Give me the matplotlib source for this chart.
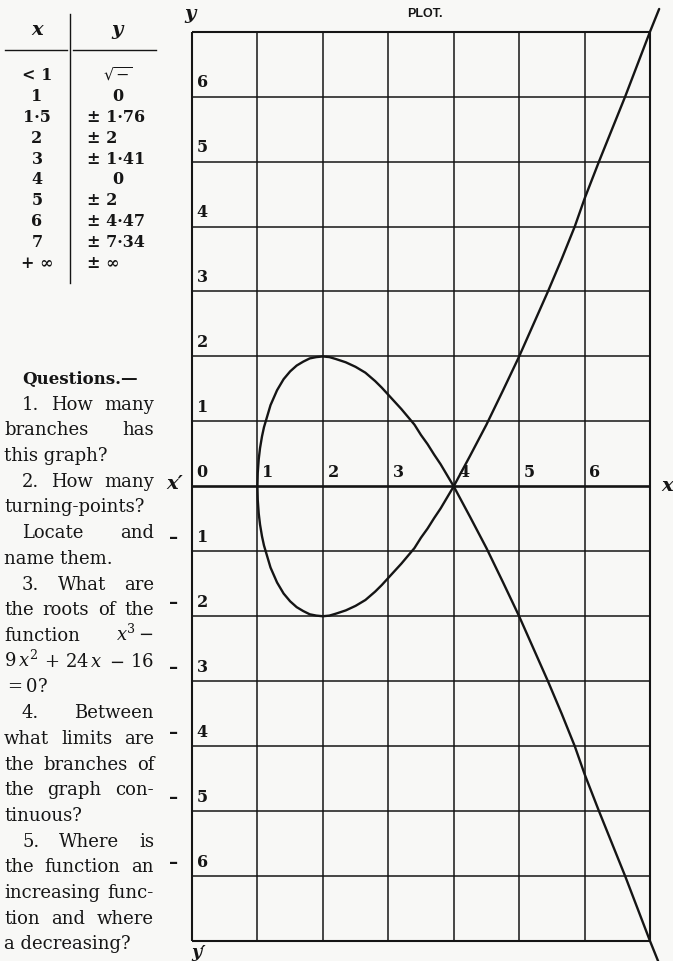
import matplotlib
matplotlib.use("Agg")
import matplotlib.pyplot as plt
from matplotlib.lines import Line2D

# values table printed beside the plot
table_x = ["< 1", "1", "1·5", "2", "3", "4", "5", "6", "7", "+ ∞"]
table_y = [r"$\sqrt{-}$", "0", "± 1·76", "± 2", "± 1·41", "0", "± 2", "± 4·47", "± 7·34", "± ∞"]

# upper half of the drawn curve (lower half is its mirror)
curve_x = [1.000, 1.005, 1.02, 1.04, 1.07, 1.10, 1.15, 1.20, 1.30, 1.40, 1.50, 1.60,
           1.70, 1.80, 1.90, 2.00, 2.10, 2.20, 2.35, 2.50, 2.65, 2.80, 2.90, 3.00,
           3.10, 3.20, 3.30, 3.40, 3.50, 3.60, 3.70, 3.80, 3.90, 4.00, 4.25, 4.50,
           4.75, 5.00, 5.22, 5.44, 5.65, 5.85, 6.00, 6.22, 6.42, 6.62, 6.81, 7.00, 7.14]
curve_y = [0.00, 0.21, 0.42, 0.59, 0.77, 0.91, 1.08, 1.25, 1.48, 1.65, 1.77, 1.86,
           1.92, 1.97, 1.99, 2.00, 1.99, 1.96, 1.91, 1.84, 1.75, 1.62, 1.52, 1.41,
           1.30, 1.19, 1.07, 0.95, 0.79, 0.65, 0.49, 0.34, 0.17, 0.00, -0.47, -0.95,
           -1.47, -2.00, -2.50, -3.00, -3.50, -4.00, -4.43, -5.00, -5.50, -6.00, -6.50,
           -7.00, -7.35]

x_labels = ["0", "1", "2", "3", "4", "5", "6"]
y_labels = ["1", "2", "3", "4", "5", "6"]

questions = [
    ("Questions.—", True, False),
    ("1. How many", True, True),
    ("branches has", False, True),
    ("this graph?", False, False),
    ("2. How many", True, True),
    ("turning-points?", False, False),
    ("Locate and", True, True),
    ("name them.", False, False),
    ("3. What are", True, True),
    ("the roots of the", False, True),
    ("function $x^3-$", False, True),
    ("$9\\,x^2$ $+$ $24\\,x$ $-$ $16$", False, True),
    ("$=0$?", False, False),
    ("4. Between", True, True),
    ("what limits are", False, True),
    ("the branches of", False, True),
    ("the graph con-", False, True),
    ("tinuous?", False, False),
    ("5. Where is", True, True),
    ("the function an", False, True),
    ("increasing func-", False, True),
    ("tion and where", False, True),
    ("a decreasing?", False, False),
]

W, H = 673, 961
ink = "#151515"
bg = "#f8f8f6"
plt.rcParams["mathtext.fontset"] = "dejavuserif"
serif = "DejaVu Serif"

fig = plt.figure(figsize=(W / 100, H / 100), dpi=100, facecolor=bg)
ax = fig.add_axes([0, 0, 1, 1])
ax.set_facecolor(bg)
ax.axis("off")

# pixel layout of the grid: x 0..7 -> 192..650, y 7..-7 -> 31.7..941
ux = (650 - 192) / 7
uy = (941 - 31.7) / 14
ax.set_xlim(-192 / ux, (W - 192) / ux)
ax.set_ylim(-7 - (H - 941) / uy, 7 + 31.7 / uy)

# grid
for k in range(8):
    lw = 1.5 if k in (0, 7) else 1.1
    ax.plot([k, k], [-7, 7], color=ink, lw=lw, solid_capstyle="butt")
for k in range(-7, 8):
    lw = 1.5 if k in (-7, 7) else (1.9 if k == 0 else 1.1)
    ax.plot([0, 7], [k, k], color=ink, lw=lw, solid_capstyle="butt")

# curve
ax.plot(curve_x, curve_y, color=ink, lw=1.7, solid_capstyle="round", solid_joinstyle="round")
ax.plot(curve_x, [-v for v in curve_y], color=ink, lw=1.7, solid_capstyle="round",
        solid_joinstyle="round")

lab = dict(family=serif, fontsize=11.5, fontweight="bold", color=ink)
for i, s in enumerate(x_labels):
    ax.text(i + 0.07, 0.08, s, ha="left", va="bottom", **lab)
for i, s in enumerate(y_labels):
    ax.text(0.07, i + 1 + 0.08, s, ha="left", va="bottom", **lab)
    ax.text(0.07, -(i + 1) + 0.08, s, ha="left", va="bottom", **lab)
    ax.text(-0.28, -(i + 1) + 0.2, "–", ha="center", va="center", family=serif,
            fontsize=13, fontweight="bold", color=ink)

ital = dict(family=serif, fontsize=14, fontstyle="italic", fontweight="bold", color=ink)
ax.text(-0.26, 0.03, "x′", ha="center", va="center", **ital)
ax.text(7.26, 0.0, "x", ha="center", va="center", **ital)
ax.text(-0.03, 7.27, "y", ha="center", va="center", **ital)
ax.text(0.1, -7.04, "y′", ha="center", va="top", family=serif, fontsize=12.5,
        fontstyle="italic", fontweight="bold", color=ink)
ax.text(3.56, 7.27, "PLOT.", ha="center", va="center", family="Liberation Sans",
        fontsize=9, fontweight="bold", color=ink)

# table
def fx(x):
    return x / W

def fy(y):
    return 1 - y / H

for seg in [((5, 67), (50, 50)), ((73, 156), (50, 50)), ((70, 70), (14, 283))]:
    fig.add_artist(Line2D([fx(v) for v in seg[0]], [fy(v) for v in seg[1]],
                          transform=fig.transFigure, color=ink, lw=1.0))
fig.text(fx(37), fy(30), "x", ha="center", va="center", **ital)
fig.text(fx(117), fy(30), "y", ha="center", va="center", **ital)
tab = dict(family=serif, fontsize=11.5, fontweight="bold", color=ink, va="center")
for i, (a, b) in enumerate(zip(table_x, table_y)):
    yy = 76 + i * 20.8
    fig.text(fx(37), fy(yy), a, ha="center", **tab)
    if b.startswith("±"):
        fig.text(fx(87), fy(yy), b, ha="left", **tab)
    else:
        fig.text(fx(118), fy(yy), b, ha="center", **tab)

# questions, justified like the printed column
renderer = fig.canvas.get_renderer()
body = dict(family=serif, fontsize=13, color=ink, va="baseline")
left, indent, right = 4, 22, 154
for i, (line, ind, just) in enumerate(questions):
    base = 378 + i * 25.7 + 6
    x0 = indent if ind else left
    kw = dict(body)
    if i == 0:
        kw["fontweight"] = "bold"
        kw["fontsize"] = 12
    words = line.split(" ")
    if not just or len(words) == 1:
        fig.text(fx(x0), fy(base), line, ha="left", **kw)
        continue
    arts = [fig.text(0, fy(base), w, ha="left", **kw) for w in words]
    widths = [a.get_window_extent(renderer).width for a in arts]
    gap = (right - x0 - sum(widths)) / (len(words) - 1)
    x = x0
    for a, w in zip(arts, widths):
        a.set_x(fx(x))
        x += w + gap

fig.savefig("out.png", dpi=100, facecolor=bg)
